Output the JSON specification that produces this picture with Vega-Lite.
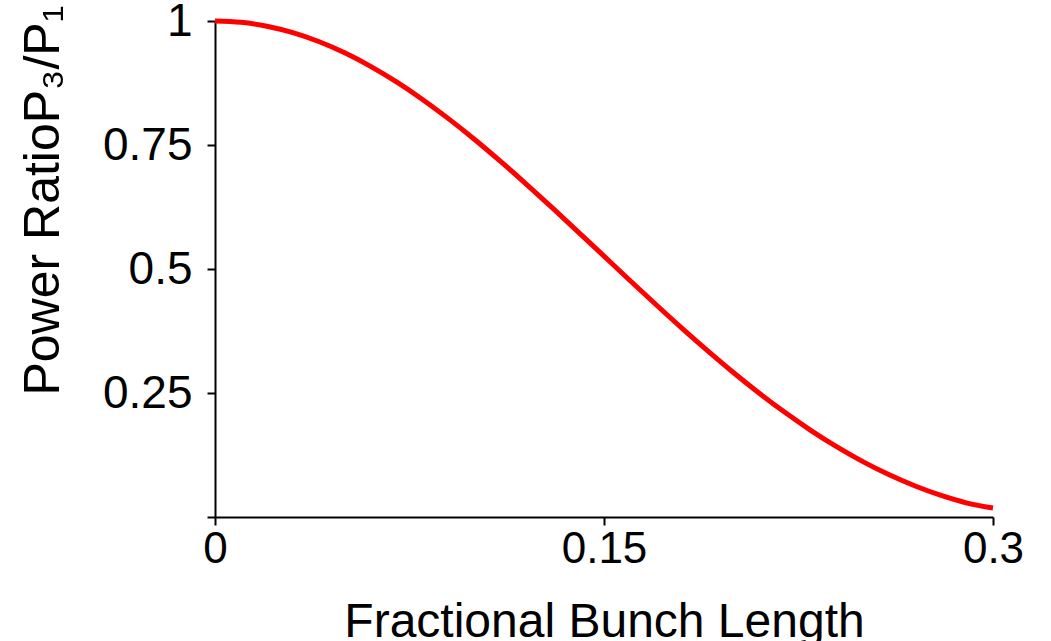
{
  "$schema": "https://vega.github.io/schema/vega-lite/v6.json",
  "width": 778,
  "height": 496,
  "autosize": {"type": "none"},
  "padding": {"left": 215, "top": 21, "right": 58, "bottom": 124},
  "background": "white",
  "data": {"values": [
    {"L": 0.00, "r": 1.0000}, {"L": 0.01, "r": 0.9974}, {"L": 0.02, "r": 0.9895},
    {"L": 0.03, "r": 0.9765}, {"L": 0.04, "r": 0.9586}, {"L": 0.05, "r": 0.9358},
    {"L": 0.06, "r": 0.9086}, {"L": 0.07, "r": 0.8771}, {"L": 0.08, "r": 0.8419},
    {"L": 0.09, "r": 0.8032}, {"L": 0.10, "r": 0.7616}, {"L": 0.11, "r": 0.7174},
    {"L": 0.12, "r": 0.6713}, {"L": 0.13, "r": 0.6236}, {"L": 0.14, "r": 0.5750},
    {"L": 0.15, "r": 0.5259}, {"L": 0.16, "r": 0.4769}, {"L": 0.17, "r": 0.4284},
    {"L": 0.18, "r": 0.3809}, {"L": 0.19, "r": 0.3350}, {"L": 0.20, "r": 0.2909},
    {"L": 0.21, "r": 0.2491}, {"L": 0.22, "r": 0.2100}, {"L": 0.23, "r": 0.1738},
    {"L": 0.24, "r": 0.1408}, {"L": 0.25, "r": 0.1111}, {"L": 0.26, "r": 0.0850},
    {"L": 0.27, "r": 0.0624}, {"L": 0.28, "r": 0.0434}, {"L": 0.29, "r": 0.0281},
    {"L": 0.30, "r": 0.0180}
  ]},
  "config": {
    "view": {"stroke": null},
    "axis": {"grid": false, "domainColor": "black", "tickColor": "black", "domainWidth": 2, "tickWidth": 2, "labelColor": "black", "titleColor": "black", "titleFontWeight": "normal", "labelFont": "Liberation Sans", "titleFont": "Liberation Sans"}
  },
  "mark": {"type": "line", "color": "#ff0000", "strokeWidth": 5, "interpolate": "monotone"},
  "encoding": {
    "x": {"field": "L", "type": "quantitative", "scale": {"domain": [0, 0.3], "nice": false, "zero": false},
      "axis": {"orient": "bottom", "values": [0, 0.15, 0.3], "labelExpr": "'' + datum.value", "tickSize": 8, "labelPadding": 2, "labelFontSize": 44, "labelFlush": false,
        "title": "Fractional Bunch Length", "titleFontSize": 48, "titleBaseline": "alphabetic", "titleY": 119,
        "encode": {"ticks": {"enter": {"y": {"value": -8}, "y2": {"value": 8}}, "update": {"y": {"value": -8}, "y2": {"value": 8}}}}}},
    "y": {"field": "r", "type": "quantitative", "scale": {"domain": [0, 1], "nice": false},
      "axis": {"orient": "left", "values": [0, 0.25, 0.5, 0.75, 1], "labelExpr": "datum.value == 0 ? '' : '' + datum.value", "tickSize": 8, "labelPadding": 15, "labelFontSize": 46, "labelFlush": false,
        "title": "Power RatioP₃/P₁", "titleFontSize": 50, "titleBaseline": "alphabetic", "titleAngle": -90, "titleX": -157, "titleY": 179, "titleAlign": "center",
        "encode": {"ticks": {"enter": {"x": {"value": 8}, "x2": {"value": -8}}, "update": {"x": {"value": 8}, "x2": {"value": -8}}}}}}
  }
}
